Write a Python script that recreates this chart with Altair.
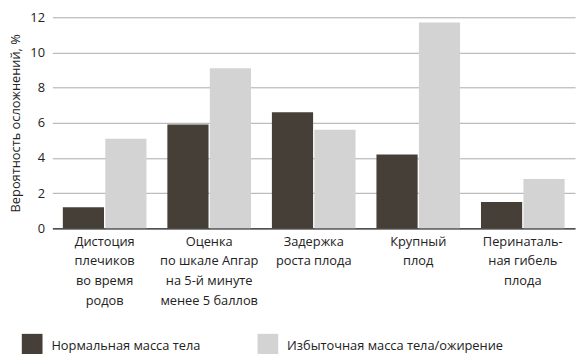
import altair as alt
import pandas as pd

categories = [
    "Дистоция\nплечиков\nво время\nродов",
    "Оценка\nпо шкале Апгар\nна 5-й минуте\nменее 5 баллов",
    "Задержка\nроста плода",
    "Крупный\nплод",
    "Перинаталь-\nная гибель\nплода",
]
normal = [1.2, 5.9, 6.6, 4.2, 1.5]
excess = [5.1, 9.1, 5.6, 11.7, 2.8]
series = ["Нормальная масса тела", "Избыточная масса тела/ожирение"]
colors = ["#463f38", "#d3d3d3"]
y_ticks = [0, 2, 4, 6, 8, 10, 12]
y_title = "Вероятность осложнений, %"

rows = []
for c, a, b in zip(categories, normal, excess):
    rows.append({"cat": c, "series": series[0], "value": a})
    rows.append({"cat": c, "series": series[1], "value": b})
df = pd.DataFrame(rows)

FONT = "Open Sans"

chart = alt.Chart(df).mark_bar().encode(
    x=alt.X(
        "cat:N",
        sort=categories,
        scale=alt.Scale(paddingInner=0.2, paddingOuter=0.1),
        axis=alt.Axis(
            title=None,
            labelAngle=0,
            labelExpr="split(datum.label, '\\n')",
            labelLineHeight=20,
            labelPadding=7,
            labelBaseline="top",
            labelFontSize=13,
            labelColor="#222222",
            labelOverlap=False,
            labelLimit=300,
            ticks=False,
            domain=True,
            domainColor="#2b2b2b",
            domainWidth=1.2,
        ),
    ),
    xOffset=alt.XOffset("series:N", sort=series, scale=alt.Scale(paddingInner=0.03)),
    y=alt.Y(
        "value:Q",
        scale=alt.Scale(domain=[0, 12], nice=False),
        axis=alt.Axis(
            values=y_ticks,
            title=y_title,
            titleFontSize=13,
            titleFontWeight="normal",
            titleColor="#222222",
            titlePadding=7,
            titleLimit=400,
            labelFontSize=13,
            labelColor="#222222",
            labelPadding=8,
            ticks=False,
            domain=False,
            grid=True,
            gridColor="#aaaaaa",
            gridWidth=1,
        ),
    ),
    color=alt.Color(
        "series:N",
        sort=series,
        scale=alt.Scale(domain=series, range=colors),
        legend=alt.Legend(
            title=None,
            orient="none",
            direction="horizontal",
            legendX=-33,
            legendY=321,
            symbolType="M-0.84,-1H0.84V1H-0.84Z",
            symbolSize=625,
            symbolStrokeWidth=0,
            symbolOpacity=1,
            labelFontSize=13,
            labelColor="#222222",
            labelOffset=7,
            labelLimit=400,
            columnPadding=55,
            padding=0,
        ),
    ),
).properties(
    width=530,
    height=214,
    autosize=alt.AutoSizeParams(type="none"),
    padding={"left": 45, "top": 7, "right": 5, "bottom": 125},
).configure(
    font=FONT,
    background="white",
).configure_view(stroke=None)

chart.save("out.html", embed_options={"renderer": "svg", "actions": False})
